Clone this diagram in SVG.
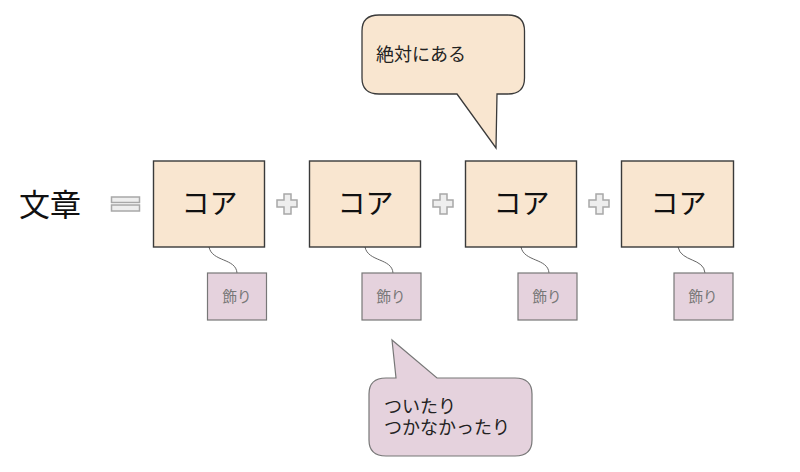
<svg xmlns="http://www.w3.org/2000/svg" width="800" height="472" viewBox="0 0 800 472">
<defs>
<style>
text{font-family:"Noto Sans CJK JP","Noto Sans",sans-serif}
.core{fill:#f9e6d0;stroke:#3a3a3a;stroke-width:1.4}
.core-t{font-size:28px;fill:#111;text-anchor:middle}
.deco{fill:#e5d2dd;stroke:#777;stroke-width:1.2}
.deco-t{font-size:14.500px;fill:#777;text-anchor:middle}
.conn{fill:none;stroke:#666;stroke-width:1}
.sym{fill:#eeeeee;stroke:#a8a8a8;stroke-width:1.5}
.lab{font-size:18px;fill:#222}
</style>
</defs>
<rect width="800" height="472" fill="#fff"/>
<g id="connectors">
<path class="conn" d="M209 247C212 262 236 258 237 273"/>
<path class="conn" d="M365 247C368 262 392 258 393 273"/>
<path class="conn" d="M521 247C524 262 548 258 549 273"/>
<path class="conn" d="M678 247C681 262 704 258 705 273"/>
</g>
<g id="label-bunsho"><text x="50" y="216" font-size="31" fill="#111" text-anchor="middle">文章</text></g>
<g id="equals">
<rect class="sym" x="111.500" y="197" width="28" height="5.500"/>
<rect class="sym" x="111.500" y="205" width="28" height="6"/>
</g>
<g id="core1"><rect class="core" x="153.500" y="161" width="111" height="86"/><text class="core-t" x="209.500" y="214">コア</text></g>
<g id="plus1"><path class="sym" d="M284 194h7v6h6v7h-6v7h-7v-7h-7v-7h7z"/></g>
<g id="core2"><rect class="core" x="309.500" y="161" width="111" height="86"/><text class="core-t" x="365.500" y="214">コア</text></g>
<g id="plus2"><path class="sym" d="M440 194h7v6h6v7h-6v7h-7v-7h-7v-7h7z"/></g>
<g id="core3"><rect class="core" x="465.500" y="161" width="111" height="86"/><text class="core-t" x="521.500" y="214">コア</text></g>
<g id="plus3"><path class="sym" d="M596 194h7v6h6v7h-6v7h-7v-7h-7v-7h7z"/></g>
<g id="core4"><rect class="core" x="621.500" y="161" width="112" height="86"/><text class="core-t" x="678.500" y="214">コア</text></g>
<g id="deco1"><rect class="deco" x="207.500" y="273" width="59" height="47"/><text class="deco-t" x="237" y="302">飾り</text></g>
<g id="deco2"><rect class="deco" x="362" y="273" width="59" height="47"/><text class="deco-t" x="391" y="302">飾り</text></g>
<g id="deco3"><rect class="deco" x="518" y="273" width="59" height="47"/><text class="deco-t" x="547" y="302">飾り</text></g>
<g id="deco4"><rect class="deco" x="674" y="273" width="59" height="47"/><text class="deco-t" x="703" y="302">飾り</text></g>
<g id="callout-top">
<path d="M379 15H508Q524.500 15 524.500 31V78Q524.500 94 508 94H497L496 148L457 94H379Q362 94 362 78V31Q362 15 379 15Z" fill="#f9e6d0" stroke="#3a3a3a" stroke-width="1.300"/>
<text class="lab" x="376" y="61">絶対にある</text>
</g>
<g id="callout-bottom">
<path d="M392 340L437 378H515Q532 378 532 394V440Q532 456 515 456H386Q369 456 369 440V394Q369 378 386 378H396Z" fill="#e5d2dd" stroke="#777" stroke-width="1.200"/>
<text class="lab"><tspan x="384" y="413">ついたり</tspan><tspan x="384" y="434">つかなかったり</tspan></text>
</g>
</svg>
